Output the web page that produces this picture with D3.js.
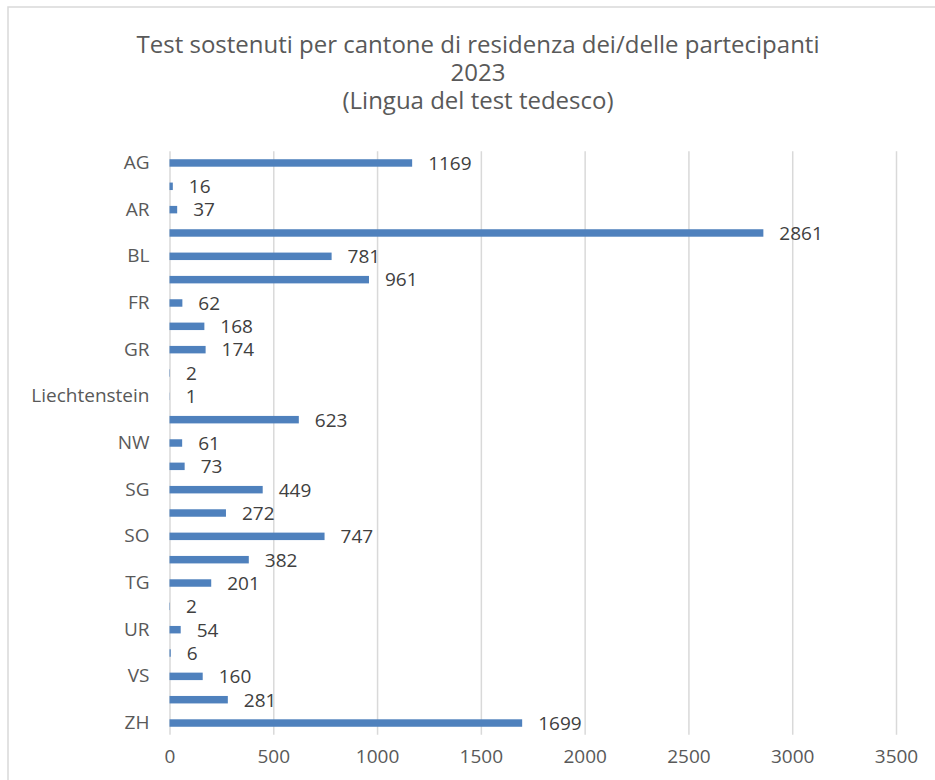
<!doctype html>
<html lang="it">
<head>
  <meta charset="utf-8">
  <title>Test sostenuti per cantone</title>
  <style type="text/css">
    body{
      margin:0;
      background:#fff;
    }
    text{
      font-family: "Open Sans", "Noto Sans", sans-serif;
    }
    .axis path{
      display:none;
    }
    .axis line{
      stroke:#d9d9d9;
      stroke-width:1.5px;
    }
  </style>
</head>
<body>
  <div id="vis"></div>
  <script src="https://cdn.jsdelivr.net/npm/d3@7"></script>
  <script type="text/javascript">

    var cantons = ['AG','AI','AR','BE','BL','BS','FR','GL','GR','JU','Liechtenstein','LU','NW','OW',
      'SG','SH','SO','SZ','TG','TI','UR','VD','VS','ZG','ZH'];
    var tests = [1169,16,37,2861,781,961,62,168,174,2,1,623,61,73,449,272,747,382,201,2,54,6,160,281,1699];
    var xTicks = [0,500,1000,1500,2000,2500,3000,3500];
    var titleLines = ['Test sostenuti per cantone di residenza dei/delle partecipanti','2023','(Lingua del test tedesco)'];

    var width = 935, height = 780;
    var plotLeft = 169.5, plotRight = 896, plotTop = 151.3, plotBottom = 734.7;

    var vis = d3.select('#vis').append('svg').attr('width',width).attr('height',height);

    // chart frame (runs off the right and bottom edge)
    vis.append('rect')
      .attr('x',8).attr('y',7)
      .attr('width',width).attr('height',height)
      .style('fill','#fff')
      .style('stroke','#d9d9d9')
      .style('stroke-width',1.5);

    vis.append('text')
      .attr('text-anchor','middle')
      .style('font-size','24px')
      .style('fill','#595959')
      .selectAll('tspan').data(titleLines).enter().append('tspan')
        .attr('x',478)
        .attr('y',function(d,i){ return 53 + i*28; })
        .text(function(d){ return d; });

    var x = d3.scaleLinear().domain([0,3500]).range([plotLeft,plotRight]);
    var y = d3.scaleBand().domain(cantons).range([plotTop,plotBottom]).paddingInner(0.68).paddingOuter(0.34);

    // gridlines
    vis.append('g')
      .attr('class','axis')
      .attr('transform','translate(0,'+plotBottom+')')
      .call(d3.axisBottom(x).tickValues(xTicks).tickSize(-(plotBottom-plotTop)).tickFormat(''));

    var xAxis = vis.append('g')
      .attr('class','axis')
      .attr('transform','translate(0,'+plotBottom+')')
      .call(d3.axisBottom(x).tickValues(xTicks).tickSize(0).tickPadding(28).tickFormat(d3.format('d')));
    xAxis.selectAll('text').style('font-size','19px').style('fill','#595959').attr('dy','0');

    var yAxis = vis.append('g')
      .attr('class','axis')
      .attr('transform','translate('+plotLeft+',0)')
      .call(d3.axisLeft(y).tickSize(0).tickPadding(20)
        .tickFormat(function(d,i){ return i%2==0 ? d : ''; }));
    yAxis.selectAll('text').style('font-size','19px').style('fill','#595959');

    vis.append('g').selectAll('rect').data(tests).enter().append('rect')
      .attr('x',x(0))
      .attr('y',function(d,i){ return y(cantons[i]); })
      .attr('width',function(d){ return x(d)-x(0); })
      .attr('height',y.bandwidth())
      .style('fill','#4f81bd');

    vis.append('g').selectAll('text').data(tests).enter().append('text')
      .attr('x',function(d){ return x(d)+16; })
      .attr('y',function(d,i){ return y(cantons[i]) + y.bandwidth()/2; })
      .attr('dy','0.36em')
      .style('font-size','19px')
      .style('fill','#404040')
      .text(function(d){ return d; });

  </script>
</body>
</html>
